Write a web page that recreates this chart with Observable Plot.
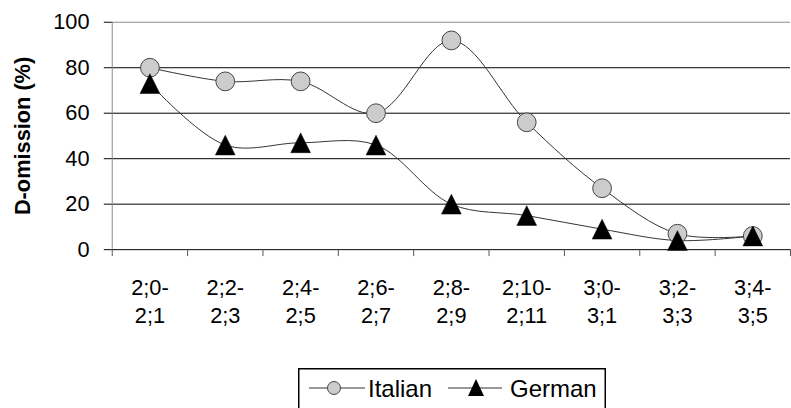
<!DOCTYPE html>
<html>
<head>
<meta charset="utf-8">
<script src="https://cdn.jsdelivr.net/npm/d3@7"></script>
<script src="https://cdn.jsdelivr.net/npm/@observablehq/plot@0.6"></script>
<style>
  html, body { margin: 0; padding: 0; background: #fff; overflow: hidden; width: 791px; height: 408px; }
  #chart { position: absolute; left: 0; top: 0; }
  #legend { position: absolute; left: 298px; top: 368px; }
  text { font-family: "Liberation Sans", Arial, sans-serif; }
</style>
</head>
<body>
<div id="chart"></div>
<div id="legend"></div>
<script>
// ---- data ----
const ageGroups = ["2;0-\n2;1", "2;2-\n2;3", "2;4-\n2;5", "2;6-\n2;7", "2;8-\n2;9", "2;10-\n2;11", "3;0-\n3;1", "3;2-\n3;3", "3;4-\n3;5"];
const italian = [80, 74, 74, 60, 92, 56, 27, 7, 6];
const german = [73, 46, 47, 46, 20, 15, 9, 4, 6];
const yTicks = [0, 20, 40, 60, 80, 100];
const yTitle = "D-omission (%)";
const seriesNames = ["Italian", "German"];

const rows = ageGroups.map((age, i) => ({age, pos: i + 0.5, italian: italian[i], german: german[i]}));

// custom triangle centred on its bounding box (Excel-style marker)
const tri = {
  draw(context, size) {
    const r = Math.sqrt(size / Math.PI);
    context.moveTo(0, -r);
    context.lineTo(r, r);
    context.lineTo(-r, r);
    context.closePath();
  }
};

const font = "Liberation Sans, Arial, sans-serif";

const chart = Plot.plot({
  width: 800,
  height: 360,
  marginLeft: 113,
  marginRight: 1,
  marginTop: 22,
  marginBottom: 108,
  style: {fontFamily: font, fontSize: "22px", background: "white", overflow: "visible"},
  x: {type: "linear", domain: [0, ageGroups.length], axis: null},
  y: {domain: [0, 100], axis: null},
  marks: [
    Plot.gridY(yTicks.filter(d => d > 0 && d < 100), {stroke: "black", strokeOpacity: 1}),
    Plot.ruleY([100], {stroke: "#8a8a8a"}),
    Plot.ruleX([0], {stroke: "#8a8a8a"}),
    Plot.ruleY([0], {stroke: "black"}),
    Plot.axisY({ticks: yTicks, tickSize: 8, tickPadding: 15, fontSize: 22, label: null, stroke: "black"}),
    Plot.axisX({ticks: d3.range(ageGroups.length + 1), tickSize: 7, tickFormat: () => "", label: null, stroke: "#555"}),
    Plot.axisX({ticks: rows.map(d => d.pos), tickSize: 0, tickPadding: 25, fontSize: 22, lineHeight: 1.32,
      tickFormat: d => ageGroups[Math.floor(d)], label: null}),
    Plot.text([yTitle], {frameAnchor: "left", textAnchor: "middle", lineAnchor: "middle", rotate: -90, dx: -90, fontWeight: "bold", fontSize: 22}),
    Plot.line(rows, {x: "pos", y: "italian", curve: "catmull-rom", stroke: "#333", strokeWidth: 1}),
    Plot.line(rows, {x: "pos", y: "german", curve: "catmull-rom", stroke: "#333", strokeWidth: 1}),
    Plot.dot(rows, {x: "pos", y: "italian", r: 9.5, fill: "#cccccc", stroke: "#444", strokeWidth: 1}),
    Plot.dot(rows, {x: "pos", y: "german", r: 10, symbol: tri, fill: "black", stroke: "black", strokeWidth: 0.5})
  ]
});
document.getElementById("chart").appendChild(chart);

// ---- legend ----
const lg = d3.select("#legend").append("svg")
  .attr("width", 308).attr("height", 52)
  .style("font-family", font);
lg.append("rect").attr("x", 0.75).attr("y", 0.75).attr("width", 306.5).attr("height", 50)
  .attr("fill", "white").attr("stroke", "black").attr("stroke-width", 1.5);
// Italian
lg.append("line").attr("x1", 11).attr("x2", 67).attr("y1", 20).attr("y2", 20).attr("stroke", "#333");
lg.append("circle").attr("cx", 36).attr("cy", 20).attr("r", 6.5).attr("fill", "#cccccc").attr("stroke", "#444");
lg.append("text").attr("x", 70).attr("y", 29).attr("font-size", 24).text(seriesNames[0]);
// German
lg.append("line").attr("x1", 150).attr("x2", 204).attr("y1", 20).attr("y2", 20).attr("stroke", "#333");
lg.append("path").attr("d", "M178,11L186,28L170,28Z").attr("fill", "black");
lg.append("text").attr("x", 212).attr("y", 29).attr("font-size", 24).text(seriesNames[1]);
</script>
</body>
</html>
